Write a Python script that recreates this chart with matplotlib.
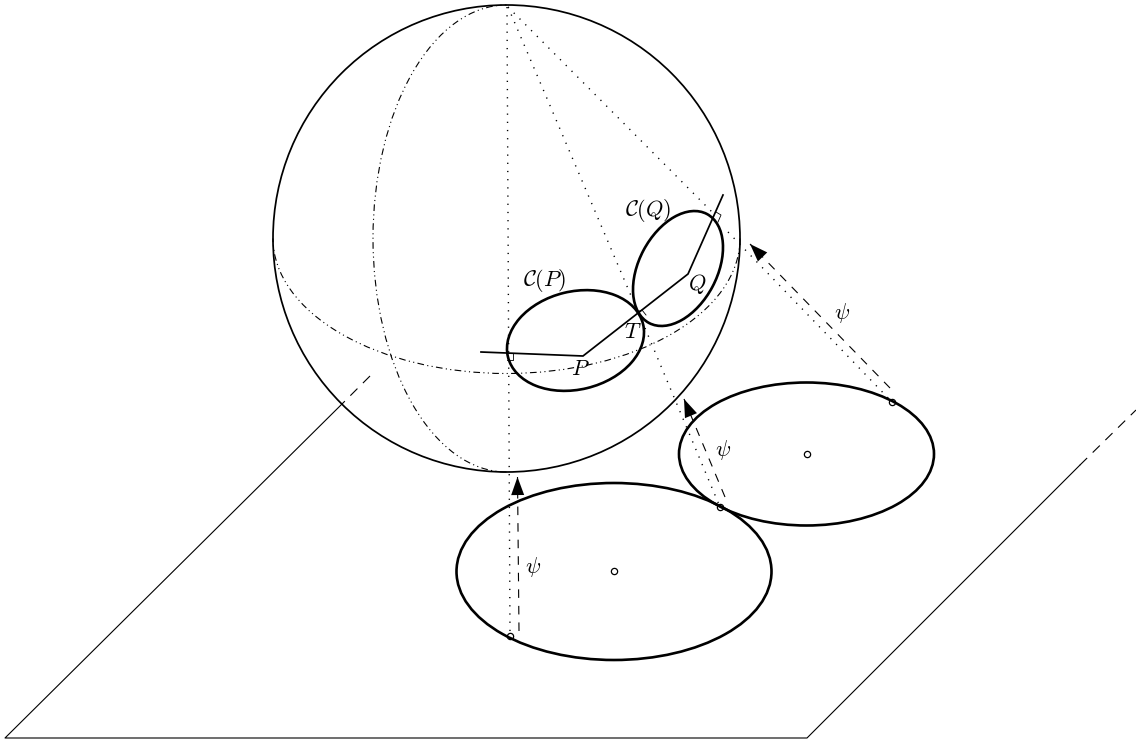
import matplotlib
matplotlib.use('Agg')
import matplotlib.pyplot as plt
from matplotlib.patches import Arc, Circle, Ellipse

plt.rcParams['mathtext.fontset'] = 'cm'

sphere_center = (506.5, 238.5)
sphere_radius = 233.5
equator_height = 135
meridian_width = 133.5

plane_solid = [(342, 404), (5, 738), (807, 738), (1080, 465)]
plane_dash_left = [(370, 376), (342, 404)]
plane_dash_right = [(1080, 465), (1136, 410)]

# center, semi axes, tilt
ground_ellipses = [((614, 571.5), 157.5, 88.5, 0), ((806.5, 454), 127.5, 71.5, 0)]
cap_ellipses = [((575.5, 340.5), 69.5, 49, -13.7), ((678, 268.5), 61.7, 39, -62)]

frame_x = [481, 583, 688, 723]
frame_y = [352, 356, 274, 195]

dotted_lines = [
    [(507, 7), (510, 636)],
    [(508, 7), (632, 298)],
    [(645, 328), (720, 507)],
    [(508, 7), (713, 213)],
    [(728, 232), (892, 402)],
]

# tail, tip of the psi arrows
psi_arrows = [
    ((519, 631), (517.5, 477)),
    ((725, 497), (684, 399)),
    ((890, 388), (750, 244)),
]

right_angles = [
    [(513, 353), (513, 360), (507, 360)],
    [(716, 212), (721, 215), (718, 222)],
    [(637, 312), (642, 310), (646, 315)],
]

marked_points = [(510, 636), (614, 571), (720, 507), (807, 454), (892, 402)]

labels = [
    (r'$\mathcal{C}(P)$', 545, 280),
    (r'$\mathcal{C}(Q)$', 648, 211),
    (r'$P$', 580, 369),
    (r'$T$', 633, 332),
    (r'$Q$', 697, 284),
    (r'$\psi$', 533, 567),
    (r'$\psi$', 723, 450),
    (r'$\psi$', 842, 313),
]

fig = plt.figure(figsize=(11.36, 7.43), dpi=100)
ax = fig.add_axes([0, 0, 1, 1])
ax.set_xlim(0, 1136)
ax.set_ylim(743, 0)
ax.axis('off')

# plane
xs, ys = zip(*plane_solid)
ax.plot(xs, ys, color='k', lw=0.8)
for seg in (plane_dash_left, plane_dash_right):
    xs, ys = zip(*seg)
    ax.plot(xs, ys, color='k', lw=0.8, dashes=(9, 7))

# sphere, equator, meridian
ax.add_patch(Circle(sphere_center, sphere_radius, fill=False, ec='k', lw=1.25))
ddash = (0, (6, 3, 1, 3, 1, 3))
ax.add_patch(Arc(sphere_center, 2 * sphere_radius, 2 * equator_height, theta1=0, theta2=180,
                 ec='k', lw=0.8, ls=ddash))
ax.add_patch(Arc(sphere_center, 2 * meridian_width, 2 * sphere_radius, theta1=90, theta2=270,
                 ec='k', lw=0.8, ls=ddash))

# dotted projection lines
for seg in dotted_lines:
    xs, ys = zip(*seg)
    ax.plot(xs, ys, color='k', lw=1.0, ls=(0, (0.9, 5)))

# psi arrows
for tail, tip in psi_arrows:
    ax.plot([tail[0], tip[0]], [tail[1], tip[1]], color='k', lw=0.8, dashes=(7.7, 7.2))
    ax.annotate('', xy=tip, xytext=tail,
                arrowprops=dict(arrowstyle='-|>,head_length=1.0,head_width=0.36', mutation_scale=13,
                                color='k', lw=0, shrinkA=0, shrinkB=0))

xs, ys = zip(*marked_points)
ax.plot(xs, ys, ls='none', marker='o', ms=4.5, mfc='w', mec='k', mew=0.9, zorder=2.5)

# ellipses on the plane and on the sphere
for center, a, b, tilt in ground_ellipses + cap_ellipses:
    ax.add_patch(Ellipse(center, 2 * a, 2 * b, angle=tilt, fill=False, ec='k', lw=1.9, zorder=3))

ax.plot(frame_x, frame_y, color='k', lw=1.25, solid_joinstyle='miter', zorder=3)

for seg in right_angles:
    xs, ys = zip(*seg)
    ax.plot(xs, ys, color='k', lw=0.6)

for txt, x, y in labels:
    ax.text(x, y, txt, fontsize=16, ha='center', va='center', color='k', zorder=6)

fig.savefig('out.png', dpi=100)
